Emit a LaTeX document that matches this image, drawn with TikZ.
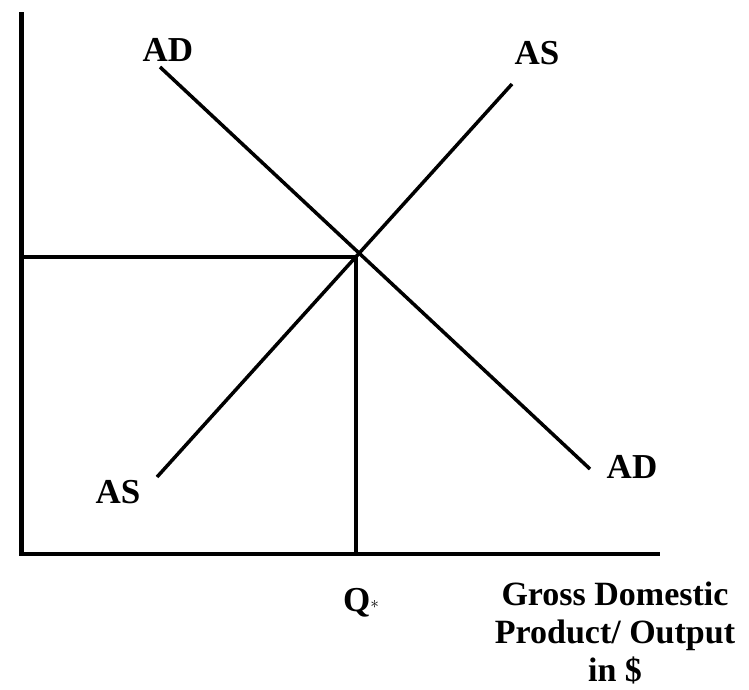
\documentclass[tikz,border=0pt]{standalone}
\usepackage{fontspec}
\setmainfont{Liberation Serif}
\begin{document}
\begin{tikzpicture}[x=1pt,y=-1pt,
  axisline/.style={line width=4.5pt},
  curveline/.style={line width=3.5pt},
  guide/.style={line width=4.5pt},
  lab/.style={font=\fontsize{35}{38}\selectfont\bfseries, inner sep=0pt},
  line cap=butt]
\useasboundingbox (0,0) rectangle (749,689);
% axes
\coordinate (ytop) at (21.5,12);
\coordinate (origin) at (21.5,554);
\coordinate (xend) at (660,554);
\draw[axisline] (ytop) -- (origin) -- (xend);
% curves
\coordinate (ad1) at (160,67);
\coordinate (ad2) at (590,469);
\coordinate (as1) at (157,477);
\coordinate (as2) at (512,84);
\draw[curveline] (ad1) -- (ad2);
\draw[curveline] (as1) -- (as2);
% equilibrium guides
\coordinate (eq) at (356,257);
\coordinate (pleft) at (19.5,257);
\coordinate (qbot) at (356,556);
\draw[guide] (pleft) -- (eq);
\draw[guide] (eq) -- (qbot);
% labels
\node[lab] (adtop) at (168,50) {AD};
\node[lab] (astop) at (537,53) {AS};
\node[lab] (asbot) at (118,492) {AS};
\node[lab] (adbot) at (632,467) {AD};
\node[lab] (qstar) at (361,603) {Q\raisebox{3pt}{\fontsize{18}{18}\selectfont$\ast$}};
\node[lab, align=center, font=\fontsize{34}{38}\selectfont\bfseries, anchor=north] (gdp) at (615,582) {Gross Domestic\\Product/ Output\\in \$};
\end{tikzpicture}
\end{document}
